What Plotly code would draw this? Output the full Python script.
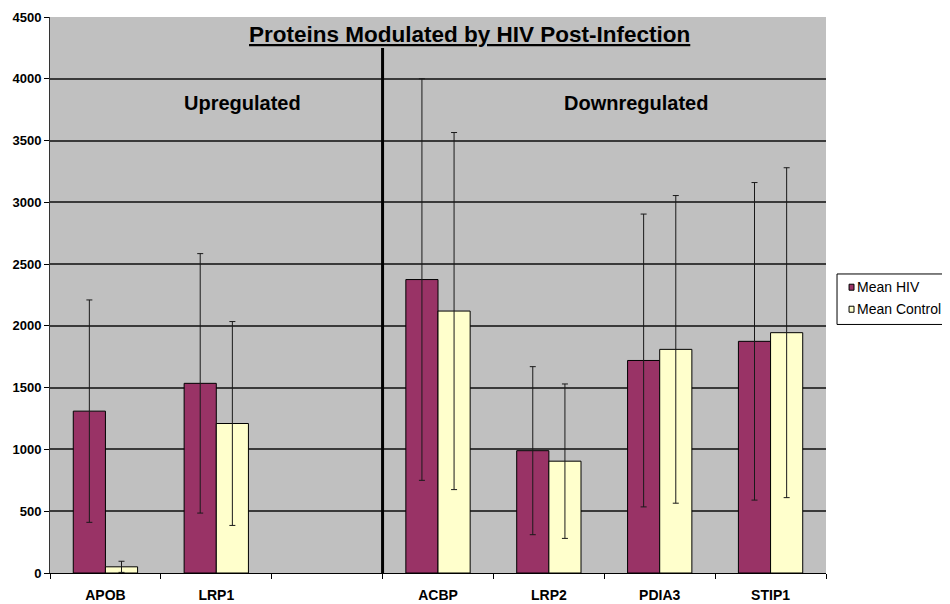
import plotly.graph_objects as go

categories = ["APOB", "LRP1", " ", "ACBP", "LRP2", "PDIA3", "STIP1"]
hiv_mean = [1310, 1535, None, 2375, 990, 1720, 1875]
hiv_err = [900, 1050, None, 1625, 680, 1185, 1285]
ctrl_mean = [50, 1210, None, 2120, 905, 1810, 1945]
ctrl_err = [45, 825, None, 1445, 625, 1245, 1335]
y_ticks = [0, 500, 1000, 1500, 2000, 2500, 3000, 3500, 4000, 4500]
series_names = ["Mean HIV", "Mean Control"]
series_colors = ["#993366", "#FFFFCC"]

FONT = "Liberation Sans, Arial, sans-serif"

fig = go.Figure()
for name, color, mean, err in zip(series_names, series_colors, [hiv_mean, ctrl_mean], [hiv_err, ctrl_err]):
    fig.add_trace(go.Bar(
        name=name, x=categories, y=mean,
        marker=dict(color=color, line=dict(color="#000000", width=1)),
        error_y=dict(type="data", array=err, visible=True, color="#1a1a1a", thickness=1, width=3),
    ))

# manual legend (Excel-like compact box)
legend_shapes = [
    dict(type="rect", xref="paper", yref="paper", x0=1.0142, x1=1.158, y0=0.447, y1=0.5378,
         line=dict(color="#000000", width=1), fillcolor="#FFFFFF", layer="above"),
]
legend_annots = []
for i, (name, color) in enumerate(zip(series_names, series_colors)):
    yc = 0.514 - i * 0.0396
    legend_shapes.append(dict(type="rect", xref="paper", yref="paper", x0=1.0297, x1=1.0361,
                              y0=yc - 0.0054, y1=yc + 0.0054,
                              line=dict(color="#000000", width=1), fillcolor=color, layer="above"))
    legend_annots.append(dict(text=name, xref="paper", yref="paper", x=1.0375, y=yc,
                              xanchor="left", yanchor="middle", showarrow=False,
                              font=dict(family=FONT, size=14, color="#000000")))

fig.update_layout(
    width=942, height=596,
    margin=dict(l=42, r=124, t=9, b=31, autoexpand=False),
    paper_bgcolor="#FFFFFF",
    plot_bgcolor="#C0C0C0",
    barmode="group",
    bargap=0.42,
    bargroupgap=0,
    font=dict(family=FONT, color="#000000"),
    showlegend=False,
    xaxis=dict(
        type="category", categoryorder="array", categoryarray=categories,
        tickson="boundaries", ticks="outside", ticklen=5, tickcolor="#000000",
        showline=True, linecolor="#000000", linewidth=1,
        showgrid=False, zeroline=False,
        tickfont=dict(family=FONT, size=14, color="#000000", weight="bold"),
        ticklabelstandoff=9,
        range=[-0.5, 6.5], automargin=False,
    ),
    yaxis=dict(
        range=[0, 4500], tickvals=y_ticks,
        ticks="outside", ticklen=5, tickcolor="#000000",
        showline=True, linecolor="#333333", linewidth=1,
        showgrid=True, gridcolor="#3a3a3a", gridwidth=1.5,
        zeroline=False,
        tickfont=dict(family=FONT, size=13, color="#000000", weight="bold"),
        automargin=False,
    ),
    shapes=[
        dict(type="line", xref="x", yref="y", x0=2.5, x1=2.5, y0=-40, y1=4250,
             line=dict(color="#000000", width=3), layer="above"),
    ] + legend_shapes,
    annotations=[
        dict(text="<b><u>Proteins Modulated by HIV Post-Infection</u></b>", xref="paper", yref="y",
             x=0.540, y=4360, xanchor="center", yanchor="middle", showarrow=False,
             font=dict(family=FONT, size=22.5, color="#000000")),
        dict(text="<b>Upregulated</b>", xref="x", yref="y", x=1.24, y=3800,
             xanchor="center", yanchor="middle", showarrow=False,
             font=dict(family=FONT, size=20, color="#000000")),
        dict(text="<b>Downregulated</b>", xref="x", yref="y", x=4.79, y=3800,
             xanchor="center", yanchor="middle", showarrow=False,
             font=dict(family=FONT, size=20, color="#000000")),
    ] + legend_annots,
)

fig.write_html("out.html")
